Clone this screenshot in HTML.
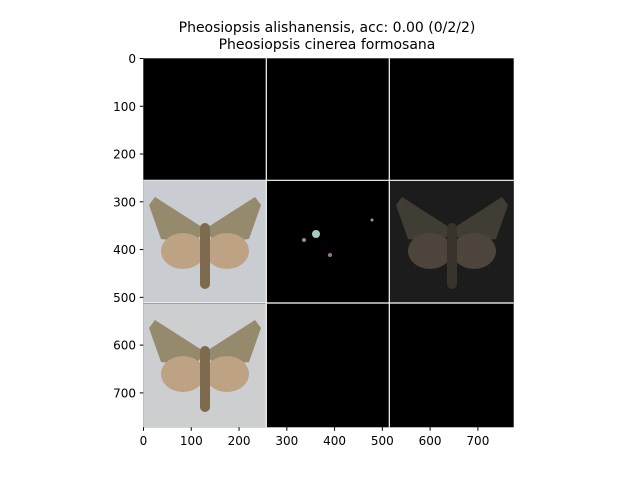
<!DOCTYPE html>
<html><head><meta charset="utf-8"><style>
body{margin:0;background:#fff;width:640px;height:480px;overflow:hidden;font-family:"Liberation Sans","DejaVu Sans",sans-serif}
</style></head><body>
<svg width="640" height="480" font-family="DejaVu Sans, Liberation Sans, sans-serif">
<defs>
<g id="moth">
 <polygon points="0,-4 -50,-36 -56,-28 -44,6 -10,10" fill="#958a6c"/>
 <polygon points="0,-4 50,-36 56,-28 44,6 10,10" fill="#958a6c"/>
 <ellipse cx="-22" cy="18" rx="22" ry="18" fill="#bda284"/>
 <ellipse cx="22" cy="18" rx="22" ry="18" fill="#bda284"/>
 <rect x="-5" y="-10" width="10" height="66" rx="5" fill="#7e6a4f"/>
</g>
</defs>
<text x="327" y="32" text-anchor="middle" font-size="14">Pheosiopsis alishanensis, acc: 0.00 (0/2/2)</text>
<text x="327" y="49" text-anchor="middle" font-size="14">Pheosiopsis cinerea formosana</text>
<g>
 <rect x="143.3" y="58.3" width="370.4" height="369" fill="#000"/>
 <g>
  <rect x="143.3" y="181" width="123" height="122" fill="#c9ccd0"/>
  <use href="#moth" transform="translate(205,233)"/>
 </g>
 <g>
  <circle cx="316" cy="234" r="4" fill="#cfe" opacity=".8"/>
  <circle cx="304" cy="240" r="2" fill="#88a"/>
  <circle cx="330" cy="255" r="2" fill="#a6a"/>
  <circle cx="372" cy="220" r="1.5" fill="#99a"/>
 </g>
 <g>
  <rect x="390" y="181" width="123.7" height="122" fill="#1c1c1c"/>
  <use href="#moth" transform="translate(452,233)" opacity=".3"/>
 </g>
 <g>
  <rect x="143.3" y="304" width="123" height="123.3" fill="#ccced0"/>
  <use href="#moth" transform="translate(205,356)"/>
 </g>
 <g stroke="#fff" stroke-width="1.2">
  <line x1="266.3" y1="58.3" x2="266.3" y2="427.3"/>
  <line x1="389.3" y1="58.3" x2="389.3" y2="427.3"/>
  <line x1="143.3" y1="180.3" x2="513.7" y2="180.3"/>
  <line x1="143.3" y1="303" x2="513.7" y2="303"/>
 </g>
</g>
<g id="xt" font-size="12" text-anchor="middle"></g>
<g id="yt" font-size="12" text-anchor="end"></g>
</svg>
<script>
const xTicks=[0,100,200,300,400,500,600,700];
const yTicks=[0,100,200,300,400,500,600,700];
const ns="http://www.w3.org/2000/svg";
const sx=v=>143.5+v*0.4777, sy=v=>58.5+v*0.4777;
const xt=document.getElementById('xt'), yt=document.getElementById('yt');
xTicks.forEach(v=>{
 const l=document.createElementNS(ns,'line');
 l.setAttribute('x1',sx(v));l.setAttribute('x2',sx(v));l.setAttribute('y1',427.3);l.setAttribute('y2',430.8);l.setAttribute('stroke','#000');
 
 
 xt.appendChild(l);
 const t=document.createElementNS(ns,'text');
 t.setAttribute('x',sx(v));t.setAttribute('y',445);t.textContent=v;
 
 
 xt.appendChild(t);
});
yTicks.forEach(v=>{
 const l=document.createElementNS(ns,'line');
 l.setAttribute('x1',139.8);l.setAttribute('x2',143.3);l.setAttribute('y1',sy(v));l.setAttribute('y2',sy(v));l.setAttribute('stroke','#000');
 
 
 yt.appendChild(l);
 const t=document.createElementNS(ns,'text');
 t.setAttribute('x',136);t.setAttribute('y',sy(v)+4.5);t.textContent=v;
 
 
 yt.appendChild(t);
});
</script>
</body></html>
